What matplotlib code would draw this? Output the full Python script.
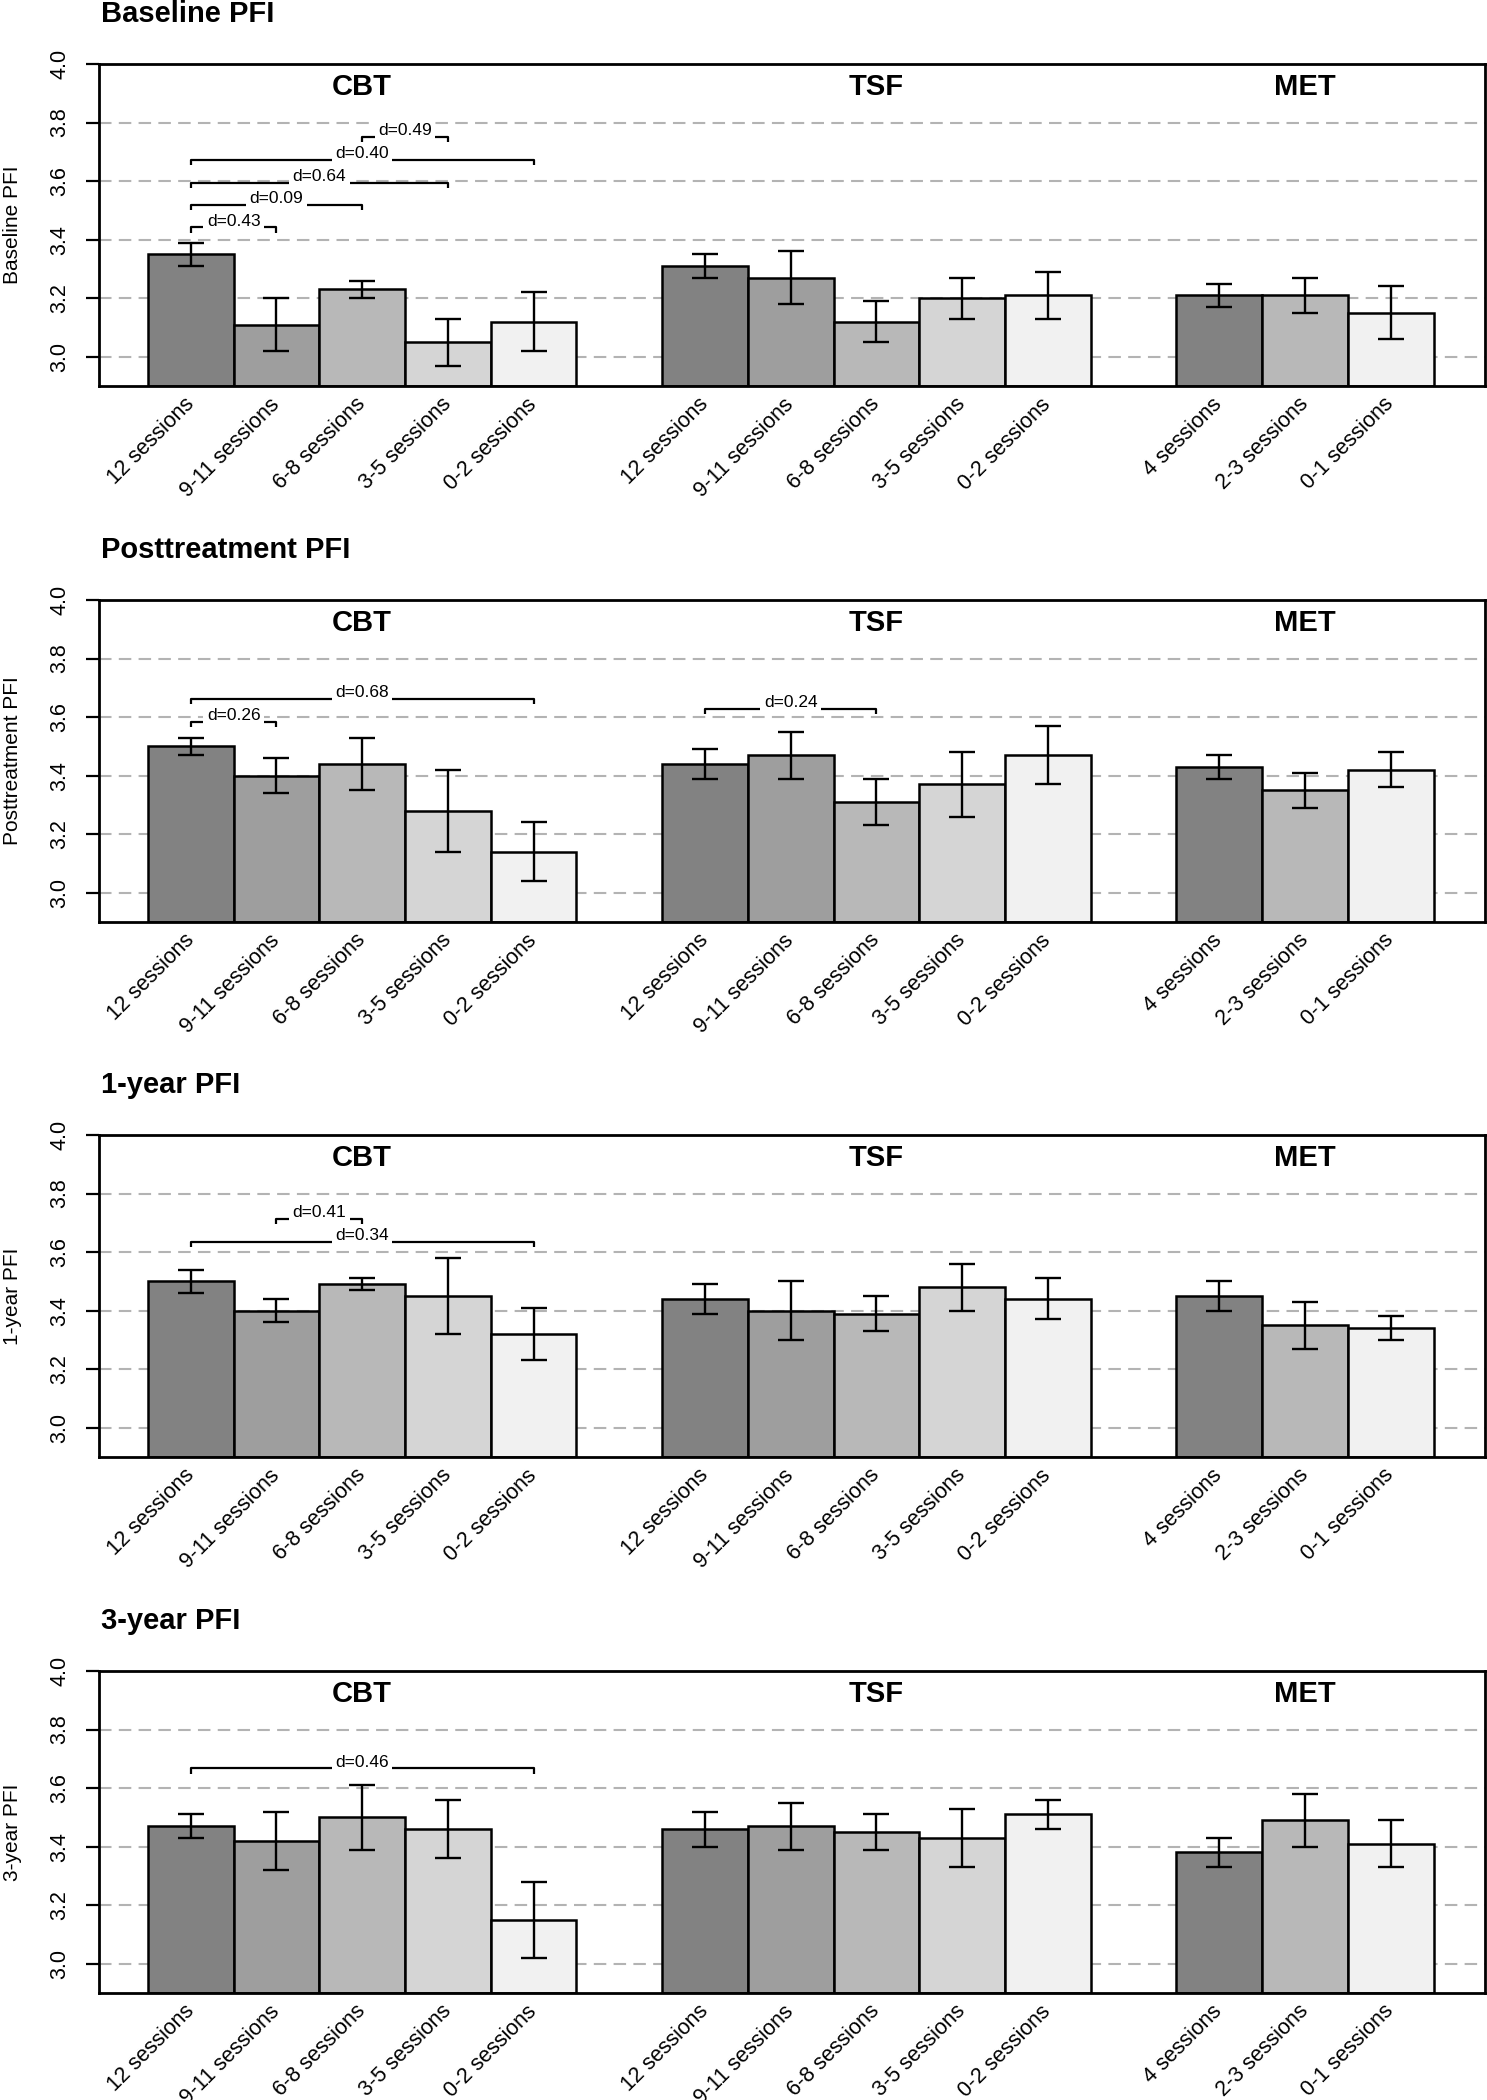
import numpy as np
import matplotlib
matplotlib.use('Agg')
import matplotlib.pyplot as plt

plt.rcParams['font.family'] = ['Liberation Sans', 'DejaVu Sans']

# 類別標籤
groups = ['CBT', 'TSF', 'MET']
sessions_cbt = ['12 sessions', '9-11 sessions', '6-8 sessions', '3-5 sessions', '0-2 sessions']
sessions_tsf = ['12 sessions', '9-11 sessions', '6-8 sessions', '3-5 sessions', '0-2 sessions']
sessions_met = ['4 sessions', '2-3 sessions', '0-1 sessions']

panel_titles = ['Baseline PFI', 'Posttreatment PFI', '1-year PFI', '3-year PFI']

# Baseline
baseline_cbt_mean = [3.35, 3.11, 3.23, 3.05, 3.12]
baseline_cbt_lo = [3.31, 3.02, 3.20, 2.97, 3.02]
baseline_cbt_hi = [3.39, 3.20, 3.26, 3.13, 3.22]
baseline_tsf_mean = [3.31, 3.27, 3.12, 3.20, 3.21]
baseline_tsf_lo = [3.27, 3.18, 3.05, 3.13, 3.13]
baseline_tsf_hi = [3.35, 3.36, 3.19, 3.27, 3.29]
baseline_met_mean = [3.21, 3.21, 3.15]
baseline_met_lo = [3.17, 3.15, 3.06]
baseline_met_hi = [3.25, 3.27, 3.24]

# Posttreatment
post_cbt_mean = [3.50, 3.40, 3.44, 3.28, 3.14]
post_cbt_lo = [3.47, 3.34, 3.35, 3.14, 3.04]
post_cbt_hi = [3.53, 3.46, 3.53, 3.42, 3.24]
post_tsf_mean = [3.44, 3.47, 3.31, 3.37, 3.47]
post_tsf_lo = [3.39, 3.39, 3.23, 3.26, 3.37]
post_tsf_hi = [3.49, 3.55, 3.39, 3.48, 3.57]
post_met_mean = [3.43, 3.35, 3.42]
post_met_lo = [3.39, 3.29, 3.36]
post_met_hi = [3.47, 3.41, 3.48]

# 1-year
yr1_cbt_mean = [3.50, 3.40, 3.49, 3.45, 3.32]
yr1_cbt_lo = [3.46, 3.36, 3.47, 3.32, 3.23]
yr1_cbt_hi = [3.54, 3.44, 3.51, 3.58, 3.41]
yr1_tsf_mean = [3.44, 3.40, 3.39, 3.48, 3.44]
yr1_tsf_lo = [3.39, 3.30, 3.33, 3.40, 3.37]
yr1_tsf_hi = [3.49, 3.50, 3.45, 3.56, 3.51]
yr1_met_mean = [3.45, 3.35, 3.34]
yr1_met_lo = [3.40, 3.27, 3.30]
yr1_met_hi = [3.50, 3.43, 3.38]

# 3-year
yr3_cbt_mean = [3.47, 3.42, 3.50, 3.46, 3.15]
yr3_cbt_lo = [3.43, 3.32, 3.39, 3.36, 3.02]
yr3_cbt_hi = [3.51, 3.52, 3.61, 3.56, 3.28]
yr3_tsf_mean = [3.46, 3.47, 3.45, 3.43, 3.51]
yr3_tsf_lo = [3.40, 3.39, 3.39, 3.33, 3.46]
yr3_tsf_hi = [3.52, 3.55, 3.51, 3.53, 3.56]
yr3_met_mean = [3.38, 3.49, 3.41]
yr3_met_lo = [3.33, 3.40, 3.33]
yr3_met_hi = [3.43, 3.58, 3.49]

# 效果量括號: (組別, 起點, 終點, 高度, 標籤)
baseline_brackets = [('CBT', 0, 1, 3.442, 'd=0.43'), ('CBT', 0, 2, 3.52, 'd=0.09'),
                     ('CBT', 0, 3, 3.595, 'd=0.64'), ('CBT', 0, 4, 3.673, 'd=0.40'),
                     ('CBT', 2, 3, 3.751, 'd=0.49')]
post_brackets = [('CBT', 0, 1, 3.583, 'd=0.26'), ('CBT', 0, 4, 3.663, 'd=0.68'),
                 ('TSF', 0, 2, 3.627, 'd=0.24')]
yr1_brackets = [('CBT', 1, 2, 3.713, 'd=0.41'), ('CBT', 0, 4, 3.634, 'd=0.34')]
yr3_brackets = [('CBT', 0, 4, 3.667, 'd=0.46')]

panels = [
    (baseline_cbt_mean, baseline_cbt_lo, baseline_cbt_hi, baseline_tsf_mean, baseline_tsf_lo, baseline_tsf_hi,
     baseline_met_mean, baseline_met_lo, baseline_met_hi, baseline_brackets),
    (post_cbt_mean, post_cbt_lo, post_cbt_hi, post_tsf_mean, post_tsf_lo, post_tsf_hi,
     post_met_mean, post_met_lo, post_met_hi, post_brackets),
    (yr1_cbt_mean, yr1_cbt_lo, yr1_cbt_hi, yr1_tsf_mean, yr1_tsf_lo, yr1_tsf_hi,
     yr1_met_mean, yr1_met_lo, yr1_met_hi, yr1_brackets),
    (yr3_cbt_mean, yr3_cbt_lo, yr3_cbt_hi, yr3_tsf_mean, yr3_tsf_lo, yr3_tsf_hi,
     yr3_met_mean, yr3_met_lo, yr3_met_hi, yr3_brackets),
]

grays5 = ['#828282', '#9e9e9e', '#b8b8b8', '#d5d5d5', '#f1f1f1']
grays3 = [grays5[0], grays5[2], grays5[4]]
group_start = {'CBT': 0, 'TSF': 6, 'MET': 12}

W, H = 1487, 2100
fig = plt.figure(figsize=(W / 100, H / 100), dpi=100)

ax_left = 99 / W
ax_width = (1485 - 99) / W
ax_height = 322 / H
ax_bottoms_px = [386, 922, 1457, 1993]

for p, (cm, cl, ch, tm, tl, th, mm, ml, mh, brackets) in enumerate(panels):
    ax = fig.add_axes([ax_left, 1 - ax_bottoms_px[p] / H, ax_width, ax_height])
    ax.set_xlim(-0.57, 15.6)
    ax.set_ylim(2.9, 4.0)

    # 虛線網格
    for gy in [3.0, 3.2, 3.4, 3.6, 3.8]:
        ax.axhline(gy, color='#b3b3b3', lw=1.5, dashes=(6, 3.5), zorder=0)

    ticks, labels = [], []
    for g, means, lo, hi, names, cols in [
        ('CBT', cm, cl, ch, sessions_cbt, grays5),
        ('TSF', tm, tl, th, sessions_tsf, grays5),
        ('MET', mm, ml, mh, sessions_met, grays3),
    ]:
        xs = group_start[g] + np.arange(len(means)) + 0.5
        means = np.array(means)
        ax.bar(xs, means - 2.9, bottom=2.9, width=1.0, color=cols,
               edgecolor='black', linewidth=1.8, zorder=2)
        ax.errorbar(xs, means, yerr=[means - np.array(lo), np.array(hi) - means],
                    fmt='none', ecolor='black', elinewidth=1.7, capsize=9.5,
                    capthick=1.7, zorder=3)
        ax.text(group_start[g] + len(means) / 2, 3.92, g, ha='center', va='center',
                fontsize=21, fontweight='bold')
        ticks.extend(xs)
        labels.extend(names)

    # 效果量括號
    for g, i, j, y, lab in brackets:
        x1 = group_start[g] + i + 0.5
        x2 = group_start[g] + j + 0.5
        ax.plot([x1, x1, x2, x2], [y - 0.018, y, y, y - 0.018], color='black',
                lw=1.6, solid_capstyle='butt', zorder=4)
        ax.annotate(lab, xy=((x1 + x2) / 2, y), xytext=(0, 4.5), textcoords='offset points',
                    ha='center', va='center', fontsize=12.5, zorder=5,
                    bbox=dict(boxstyle='square,pad=0.2', fc='white', ec='none'))

    ax.set_xticks(ticks)
    ax.set_xticklabels(labels, rotation=45, ha='right', va='center',
                       rotation_mode='anchor', fontsize=15.5)
    ax.tick_params(axis='x', length=0, pad=11)
    ax.set_yticks([3.0, 3.2, 3.4, 3.6, 3.8, 4.0])
    ax.set_yticklabels(['3.0', '3.2', '3.4', '3.6', '3.8', '4.0'], rotation=90,
                       va='center', fontsize=15.5)
    ax.tick_params(axis='y', length=9.5, width=1.6, pad=11)
    for s in ax.spines.values():
        s.set_linewidth(2)
    ax.set_ylabel(panel_titles[p], fontsize=15, va='center')
    ax.yaxis.set_label_coords((13 - 99) / (1485 - 99), 0.5)

    top_px = ax_bottoms_px[p] - 322
    fig.text(101 / W, 1 - (top_px - 42) / H, panel_titles[p], ha='left', va='baseline',
             fontsize=21, fontweight='bold')

fig.savefig('out.png', dpi=100)
